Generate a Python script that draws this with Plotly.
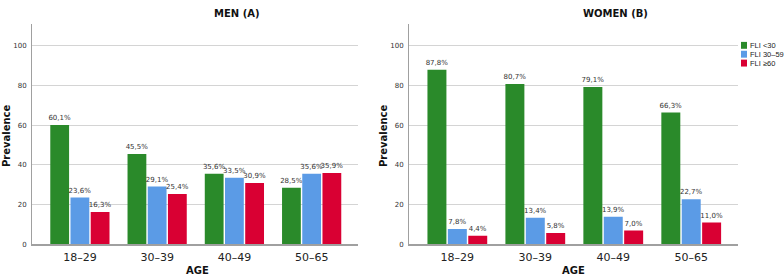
import plotly.graph_objects as go

W, H = 784, 279

age_groups = ["18–29", "30–39", "40–49", "50–65"]
series_names = ["FLI &lt;30", "FLI 30–59", "FLI ≥60"]
series_colors = ["#2a8a2a", "#5b9be6", "#d90033"]

men_lt30 = [60.1, 45.5, 35.6, 28.5]
men_30_59 = [23.6, 29.1, 33.5, 35.6]
men_ge60 = [16.3, 25.4, 30.9, 35.9]

women_lt30 = [87.8, 80.7, 79.1, 66.3]
women_30_59 = [7.8, 13.4, 13.9, 22.7]
women_ge60 = [4.4, 5.8, 7.0, 11.0]

y_ticks = [0, 20, 40, 60, 80, 100]

FONT = "DejaVu Sans"


def px_x(p):
    return p / W


def px_y(p):
    return 1 - p / H


def fmt(v):
    return f"{v:.1f}".replace(".", ",") + "%"


fig = go.Figure()

panels = [
    ("x", "y", [men_lt30, men_30_59, men_ge60]),
    ("x2", "y2", [women_lt30, women_30_59, women_ge60]),
]

for xa, ya, series in panels:
    for name, color, vals in zip(series_names, series_colors, series):
        fig.add_trace(go.Bar(
            x=age_groups, y=vals, name=name,
            marker=dict(color=color, line=dict(width=0)),
            text=[fmt(v) for v in vals],
            textposition="outside",
            constraintext="none",
            cliponaxis=False,
            textfont=dict(family=FONT, size=7, color="#333333"),
            xaxis=xa, yaxis=ya, showlegend=False,
            hoverinfo="skip",
        ))

axis_common_x = dict(
    type="category", range=[-0.62, 3.6], showgrid=False, zeroline=False,
    showline=True, linecolor="#a0a0a0", linewidth=1.5, ticks="",
    ticklabelstandoff=2,
    tickfont=dict(family=FONT, size=11, color="#222222"),
)
axis_common_y = dict(
    range=[0, 111], tickvals=y_ticks, showgrid=True, gridcolor="#d4d4d4",
    gridwidth=1, zeroline=False, showline=True, linecolor="#a0a0a0",
    linewidth=1, ticks="", ticklabelstandoff=3,
    tickfont=dict(family=FONT, size=7, color="#333333"),
)

y_dom = [px_y(248), px_y(24)]
fig.update_layout(
    width=W, height=H,
    margin=dict(l=0, r=0, t=0, b=0),
    paper_bgcolor="white", plot_bgcolor="white",
    barmode="group", bargap=0.215, bargroupgap=0.07,
    showlegend=False,
    xaxis=dict(domain=[px_x(32), px_x(358)], anchor="y", **axis_common_x),
    yaxis=dict(domain=y_dom, anchor="x", **axis_common_y),
    xaxis2=dict(domain=[px_x(409), px_x(738)], anchor="y2", **axis_common_x),
    yaxis2=dict(domain=y_dom, anchor="x2", **axis_common_y),
)

annots = []
title_font = dict(family=FONT, size=10, color="#111111")
for text, xp in [("<b>MEN (A)</b>", 237), ("<b>WOMEN (B)</b>", 615)]:
    annots.append(dict(text=text, x=px_x(xp), y=px_y(14), xref="paper", yref="paper",
                       showarrow=False, xanchor="center", yanchor="middle", font=title_font))
for xp in [197, 573]:
    annots.append(dict(text="<b>AGE</b>", x=px_x(xp), y=px_y(274), xref="paper", yref="paper",
                       showarrow=False, xanchor="center", yanchor="middle", font=title_font))
for xp in [6, 383]:
    annots.append(dict(text="<b>Prevalence</b>", x=px_x(xp), y=px_y(138), xref="paper", yref="paper",
                       showarrow=False, xanchor="center", yanchor="middle", textangle=-90,
                       font=title_font))

# manual legend
shapes = []
legend_rows = [46, 55, 64]
for name, color, ry in zip(series_names, series_colors, legend_rows):
    shapes.append(dict(type="rect", xref="paper", yref="paper",
                       x0=px_x(741), x1=px_x(747), y0=px_y(ry + 3.5), y1=px_y(ry - 3.5),
                       fillcolor=color, line=dict(width=0)))
    annots.append(dict(text=name, x=px_x(748), y=px_y(ry), xref="paper", yref="paper",
                       showarrow=False, xanchor="left", yanchor="middle",
                       font=dict(family="Liberation Sans", size=7.5, color="#222222")))

fig.update_layout(annotations=annots, shapes=shapes)

fig.write_html(
    "out.html",
    config={"displayModeBar": False, "staticPlot": True},
    post_script="document.body.style.margin='0';document.body.style.overflow='hidden';",
)
